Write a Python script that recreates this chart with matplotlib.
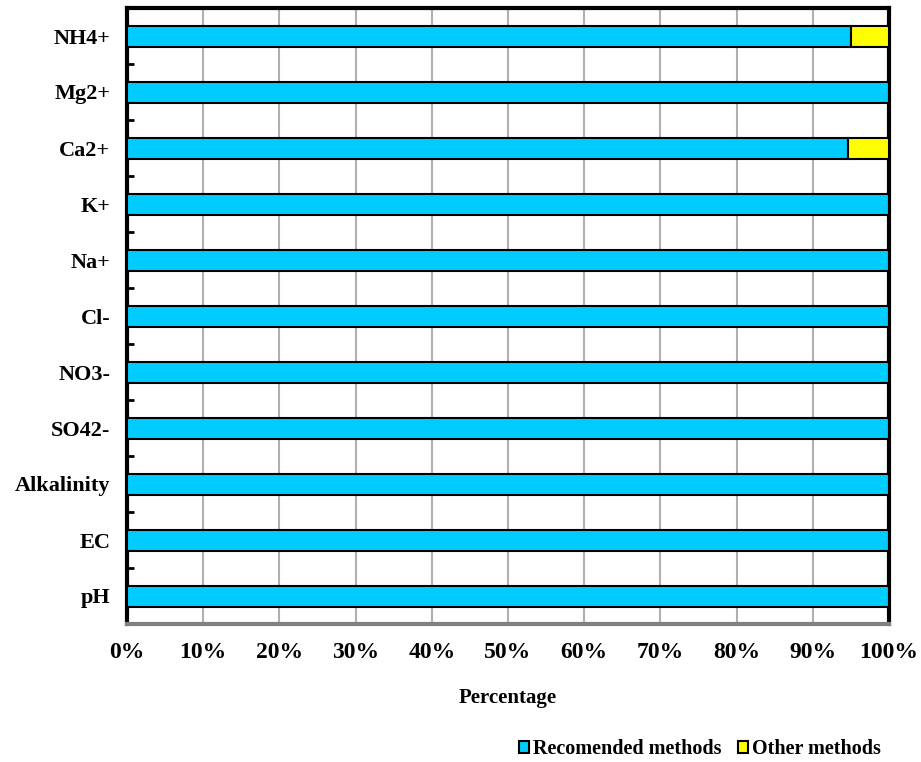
import matplotlib
matplotlib.use("Agg")
import matplotlib.pyplot as plt
import numpy as np
from matplotlib.patches import Patch

categories = ["pH", "EC", "Alkalinity", "SO42-", "NO3-", "Cl-", "Na+", "K+", "Ca2+", "Mg2+", "NH4+"]
recommended = [100, 100, 100, 100, 100, 100, 100, 100, 94.6, 100, 95.0]
other = [0, 0, 0, 0, 0, 0, 0, 0, 5.4, 0, 5.0]
xticklabels = ["0%", "10%", "20%", "30%", "40%", "50%", "60%", "70%", "80%", "90%", "100%"]

plt.rcParams['font.family'] = ['Liberation Serif', 'DejaVu Serif']
plt.rcParams['font.weight'] = 'bold'

fig = plt.figure(figsize=(9.21, 7.62), dpi=100)
ax = fig.add_axes([127/921, 1-624/762, (889-127)/921, (624-8)/762])

y = np.arange(len(categories))
h = 0.375
ax.barh(y, recommended, height=h, color="#00CCFF", edgecolor="black", linewidth=1.5, zorder=3)
ax.barh(y, other, left=recommended, height=h, color="#FFFF00", edgecolor="black", linewidth=1.5, zorder=3)

ax.set_xlim(0, 100)
ax.set_ylim(-0.5, len(categories) - 0.5)
ax.set_xticks(np.arange(0, 101, 10))
ax.set_xticklabels(xticklabels, fontsize=17, fontweight='bold')
ax.set_yticks(y)
ax.set_yticklabels(categories, fontsize=16, fontweight='bold')
ax.tick_params(axis='y', which='major', length=0, pad=12)
ax.set_yticks(np.arange(-0.5, len(categories) - 0.5, 1)[1:], minor=True)
ax.tick_params(axis='y', which='minor', direction='in', length=5, width=2, left=True)
ax.tick_params(axis='x', which='major', length=0, pad=13)
ax.grid(axis='x', color='#b0b0b0', linewidth=1.5, zorder=0)

for side in ['left', 'top', 'right']:
    ax.spines[side].set_linewidth(3)
    ax.spines[side].set_color('black')
ax.spines['bottom'].set_linewidth(3)
ax.spines['bottom'].set_color('#808080')

ax.set_xlabel("Percentage", fontsize=15, fontweight='bold')
ax.xaxis.set_label_coords(0.5, -0.104)

handles = [Patch(facecolor="#00CCFF", edgecolor="black", linewidth=1.5, label="Recomended methods"),
           Patch(facecolor="#FFFF00", edgecolor="black", linewidth=1.5, label="Other methods")]
fig.legend(handles=handles, loc='center', bbox_to_anchor=(700/921, 1-749/762), ncol=2, frameon=False,
           handlelength=0.5, handleheight=0.6, handletextpad=0.2, columnspacing=0.8,
           prop={'weight': 'bold', 'size': 14.5})

fig.savefig("out.png", dpi=100)
